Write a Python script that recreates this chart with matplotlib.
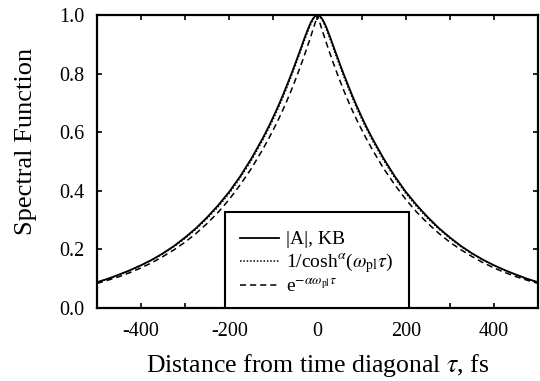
import numpy as np
import matplotlib
matplotlib.use("Agg")
import matplotlib.pyplot as plt
from matplotlib.ticker import MultipleLocator, FormatStrFormatter
from matplotlib.patches import Rectangle

plt.rcParams['font.family'] = ['Liberation Serif', 'DejaVu Serif']
plt.rcParams['mathtext.fontset'] = 'stix'
plt.rcParams['axes.unicode_minus'] = False

# half of the symmetric curves (tau >= 0)
tau_half = [0, 5, 10, 15, 20, 25, 30, 40, 50, 60, 70, 80, 90, 100, 110, 125, 150, 175, 200,
            225, 250, 275, 300, 325, 350, 375, 400, 425, 450, 475, 500]
a_kb = [1.000, 0.997, 0.988, 0.975, 0.958, 0.939, 0.919, 0.877, 0.836, 0.796, 0.758, 0.721,
        0.686, 0.653, 0.621, 0.577, 0.510, 0.450, 0.397, 0.351, 0.310, 0.273, 0.241, 0.212,
        0.187, 0.165, 0.146, 0.129, 0.114, 0.100, 0.088]
a_cosh = [1.000, 0.996, 0.985, 0.970, 0.952, 0.932, 0.912, 0.870, 0.829, 0.789, 0.751, 0.714,
          0.679, 0.646, 0.615, 0.571, 0.504, 0.445, 0.392, 0.346, 0.306, 0.270, 0.238, 0.210,
          0.185, 0.164, 0.145, 0.128, 0.113, 0.099, 0.088]
a_exp = [1.000, 0.975, 0.951, 0.928, 0.905, 0.883, 0.861, 0.819, 0.779, 0.741, 0.705, 0.671,
         0.639, 0.609, 0.580, 0.539, 0.476, 0.421, 0.371, 0.327, 0.289, 0.255, 0.225, 0.199,
         0.176, 0.155, 0.137, 0.121, 0.107, 0.095, 0.084]

labels = [r'|A|, KB', r'1/cosh$^{\alpha}$($\omega_{\rm pl}\tau$)', r'e$^{-\alpha\omega_{\rm pl}\tau}$']


def mirror(t, v):
    t = np.asarray(t, float)
    v = np.asarray(v, float)
    return np.concatenate([-t[:0:-1], t]), np.concatenate([v[:0:-1], v])


fig = plt.figure(figsize=(5.4, 3.81), dpi=100)
ax = fig.add_axes([0.1796, 0.1916, 0.8167, 0.769])

x, y = mirror(tau_half, a_kb)
ax.plot(x, y, color='k', lw=1.3, ls='-', label=labels[0])
x, y = mirror(tau_half, a_cosh)
ax.plot(x, y, color='k', lw=1.1, ls=(0, (1, 1.2)), label=labels[1])
x, y = mirror(tau_half, a_exp)
ax.plot(x, y, color='k', lw=1.1, ls=(0, (4, 2.6)), label=labels[2])

ax.set_xlim(-500, 500)
ax.set_ylim(0, 1)
ax.xaxis.set_major_locator(MultipleLocator(200))
ax.xaxis.set_minor_locator(MultipleLocator(100))
ax.yaxis.set_major_locator(MultipleLocator(0.2))
ax.yaxis.set_major_formatter(FormatStrFormatter('%.1f'))
ax.tick_params(which='both', direction='in', top=True, right=True, length=3.5, width=1.2,
               labelsize=14.5)
ax.tick_params(axis='x', pad=10)
ax.tick_params(axis='y', pad=9)
for s in ax.spines.values():
    s.set_linewidth(1.6)

ax.set_xlabel(r'Distance from time diagonal $\tau$, fs', fontsize=18.5, labelpad=8)
ax.set_ylabel('Spectral Function', fontsize=19)
ax.yaxis.set_label_coords(-0.136, 0.567)

# legend box sits on the bottom axis
box = Rectangle((0.2902, 0.0), 0.4173, 0.3276, transform=ax.transAxes, facecolor='white',
                edgecolor='k', lw=1.5, zorder=4)
ax.add_patch(box)
leg = ax.legend(loc='lower left', bbox_to_anchor=(0.306, 0.015), borderaxespad=0,
                fontsize=14, frameon=False, handlelength=2.0, handletextpad=0.4,
                labelspacing=0.15, borderpad=0.4)
leg.set_zorder(5)

fig.savefig('out.png', dpi=100)
